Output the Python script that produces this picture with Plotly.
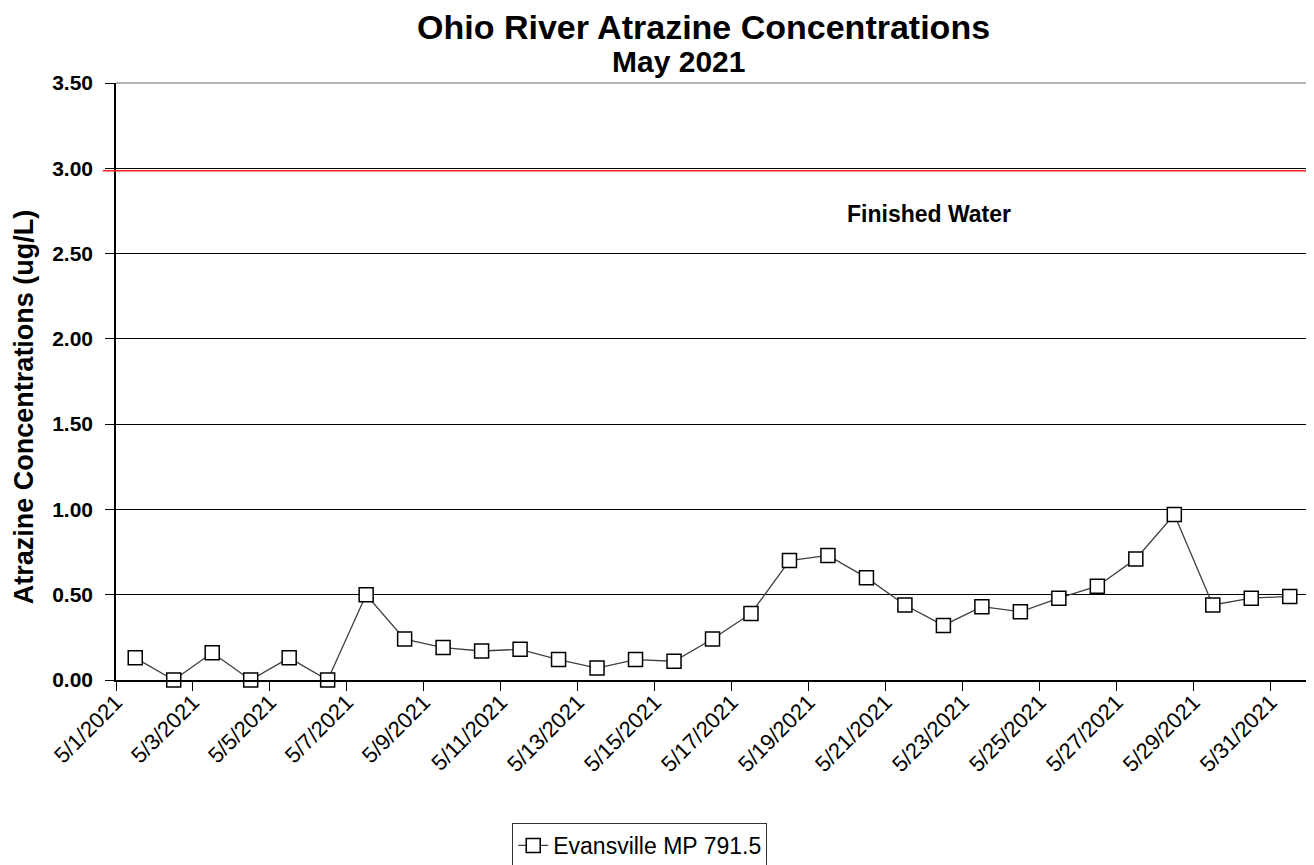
import plotly.graph_objects as go

dates = ["2021-05-%02d 12:00" % d for d in range(1, 32)]
values = [0.13, 0.00, 0.16, 0.00, 0.13, 0.00, 0.50, 0.24, 0.19, 0.17,
          0.18, 0.12, 0.07, 0.12, 0.11, 0.24, 0.39, 0.70, 0.73, 0.60,
          0.44, 0.32, 0.43, 0.40, 0.48, 0.55, 0.71, 0.97, 0.44, 0.48, 0.49]
series_name = "Evansville MP 791.5"
tick_dates = ["2021-05-%02d" % d for d in range(1, 32, 2)]
tick_labels = ["5/%d/2021" % d for d in range(1, 32, 2)]
y_ticks = [0, 0.5, 1.0, 1.5, 2.0, 2.5, 3.0, 3.5]
limit_value = 2.985
limit_label = "Finished Water"
title_line1 = "Ohio River Atrazine Concentrations"
title_line2 = "May 2021"
y_title = "Atrazine Concentrations (ug/L)"

FONT = "Liberation Sans, Arial, sans-serif"

# page body has an 8px margin, so the figure is 8px smaller than the window
fig = go.Figure()
fig.add_trace(go.Scatter(
    x=dates, y=values, mode="lines+markers", name=series_name,
    line=dict(color="#404040", width=1.3),
    marker=dict(symbol="square", size=14, color="white",
                line=dict(color="black", width=1.5)),
    cliponaxis=False,
))

fig.update_layout(
    width=1306, height=857,
    margin=dict(l=108, r=5, t=75, b=185, autoexpand=False),
    paper_bgcolor="white", plot_bgcolor="white",
    font=dict(family=FONT, color="black"),
    showlegend=True,
    legend=dict(x=0.439, xanchor="center", y=(680 - 823) / 597, yanchor="top",
                bordercolor="#333333", borderwidth=1,
                font=dict(size=23, family=FONT),
                tracegroupgap=0),
    xaxis=dict(type="date", range=["2021-05-01", "2021-06-01"],
               tickmode="array", tickvals=tick_dates, ticktext=tick_labels,
               tickangle=-45, tickfont=dict(size=22, family=FONT),
               ticks="outside", ticklen=9, tickcolor="black",
               ticklabelstandoff=-10,
               showgrid=False, showline=True, linecolor="black", linewidth=1.5,
               zeroline=False, automargin=False),
    yaxis=dict(range=[0, 3.5], tickmode="array", tickvals=y_ticks,
               ticktext=["<b>%.2f</b>" % v for v in y_ticks],
               tickfont=dict(size=21, family=FONT),
               ticks="outside", ticklen=9, tickcolor="black",
               ticklabelstandoff=8,
               showgrid=True, gridcolor="black", gridwidth=1,
               showline=True, linecolor="black", linewidth=1.5,
               zeroline=False, automargin=False),
)

fig.add_annotation(x=(703 - 116) / 1193, y=(680 - 27) / 597, xref="paper", yref="paper",
                   text="<b>" + title_line1 + "</b>", showarrow=False,
                   xanchor="center", yanchor="middle", font=dict(size=34, family=FONT))
fig.add_annotation(x=(678 - 116) / 1193, y=(680 - 62) / 597, xref="paper", yref="paper",
                   text="<b>" + title_line2 + "</b>", showarrow=False,
                   xanchor="center", yanchor="middle", font=dict(size=30, family=FONT))
fig.add_annotation(x=(24 - 116) / 1193, y=0.457, xref="paper", yref="paper",
                   text="<b>" + y_title + "</b>", textangle=-90,
                   xanchor="center", yanchor="middle",
                   showarrow=False, font=dict(size=27, family=FONT))

# gray frame top/right
fig.add_shape(type="line", xref="paper", yref="paper", x0=0, x1=1, y0=1, y1=1,
              line=dict(color="#999999", width=1.5))
fig.add_shape(type="line", xref="paper", yref="paper", x0=1, x1=1, y0=0, y1=1,
              line=dict(color="#999999", width=1.5))
# limit line
fig.add_shape(type="line", xref="paper", yref="y", x0=-0.011, x1=1,
              y0=limit_value, y1=limit_value, layer="above",
              line=dict(color="#ff2020", width=1.5))
fig.add_annotation(x=(929 - 116) / 1193, y=2.73, xref="paper", yref="y",
                   text="<b>" + limit_label + "</b>", showarrow=False,
                   xanchor="center", font=dict(size=23, family=FONT))

fig.write_html("out.html")
